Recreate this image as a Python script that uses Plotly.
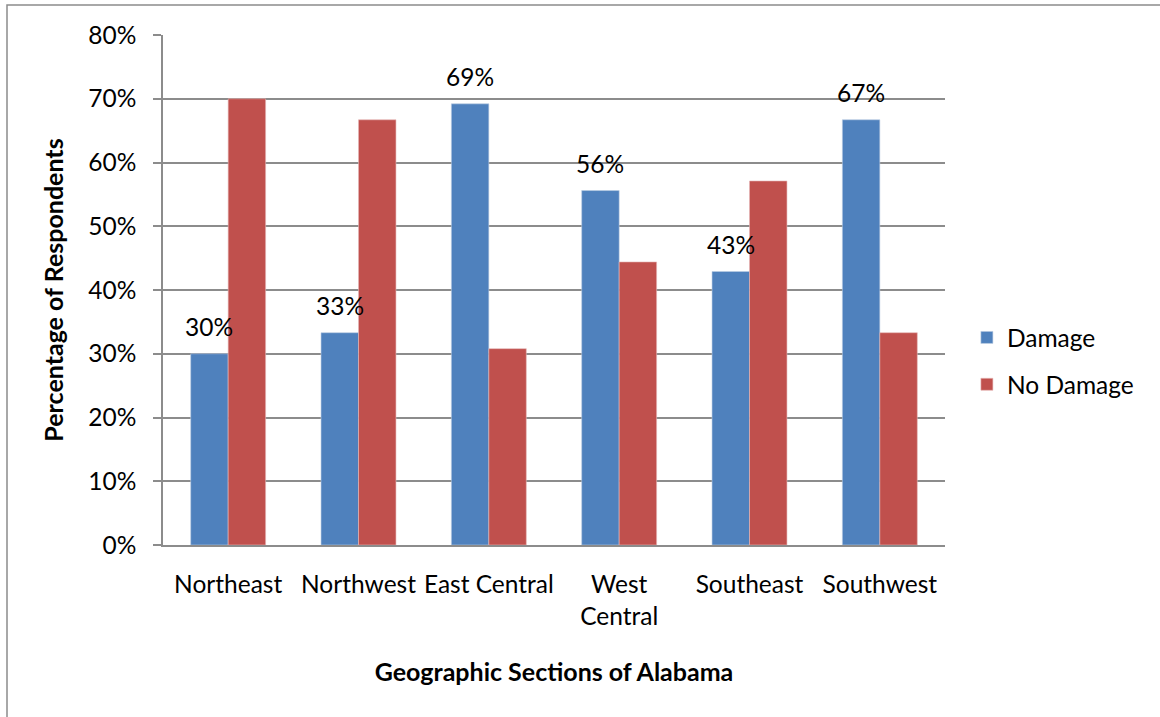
import plotly.graph_objects as go

# Survey results by region
regions = ["Northeast", "Northwest", "East Central", "West<br>Central", "Southeast", "Southwest"]
damage = [30.0, 33.3, 69.2, 55.6, 42.9, 66.7]
no_damage = [70.0, 66.7, 30.8, 44.4, 57.1, 33.3]
y_ticks = [0, 10, 20, 30, 40, 50, 60, 70, 80]
y_tick_text = ["0%", "10%", "20%", "30%", "40%", "50%", "60%", "70%", "80%"]

BLUE = "#4F81BD"
RED = "#C0504D"
GRID = "#8C8C8C"
FONT = "Lato"
SIZE = 24.5

fig = go.Figure()
fig.add_trace(go.Bar(x=regions, y=damage, name="Damage", legendgroup="d",
                     marker=dict(color=BLUE, line=dict(color="#BCCDE3", width=0.6))))
fig.add_trace(go.Bar(x=regions, y=no_damage, name="No Damage", legendgroup="n",
                     marker=dict(color=RED, line=dict(color="#E6B9B8", width=0.6))))

# value labels above the Damage bars
for r, v in zip(regions, damage):
    fig.add_annotation(x=r, y=v, text=f"{round(v)}%", showarrow=False,
                       xshift=-19, yshift=27, font=dict(family=FONT, size=SIZE, color="black"))

# thin frame around the chart
fig.add_shape(type="rect", xref="paper", yref="paper",
              x0=(7 - 163) / 782, x1=(1170 - 163) / 782,
              y0=(545 - 725) / 510, y1=(545 - 5) / 510,
              line=dict(color="#8C8C8C", width=1.5), fillcolor="rgba(0,0,0,0)", layer="below")

fig.update_layout(
    width=1160, height=717,
    margin=dict(l=163, r=215, t=35, b=172),
    paper_bgcolor="white", plot_bgcolor="white",
    barmode="group", bargap=0.425, bargroupgap=0,
    font=dict(family=FONT, size=SIZE, color="black"),
    showlegend=True,
    legend=dict(x=1.028, y=(545 - 361) / 510, xanchor="left", yanchor="middle",
                font=dict(family=FONT, size=SIZE), tracegroupgap=12,
                itemwidth=30),
    xaxis=dict(showline=True, linecolor=GRID, linewidth=1.5, ticks="",
               tickfont=dict(family=FONT, size=SIZE), ticklabelstandoff=17,
               title=dict(text="<b>Geographic Sections of Alabama</b>",
                          font=dict(family=FONT, size=25), standoff=34)),
    yaxis=dict(range=[0, 80], tickvals=y_ticks, ticktext=y_tick_text,
               showgrid=True, gridcolor=GRID, gridwidth=1.5,
               showline=True, linecolor=GRID, linewidth=1.5,
               ticks="outside", ticklen=8, tickcolor=GRID, tickwidth=1.5,
               ticklabelstandoff=12, zeroline=False,
               tickfont=dict(family=FONT, size=SIZE),
               title=dict(text="<b>Percentage of Respondents</b>",
                          font=dict(family=FONT, size=25), standoff=18)),
)

fig.write_html("out.html")
